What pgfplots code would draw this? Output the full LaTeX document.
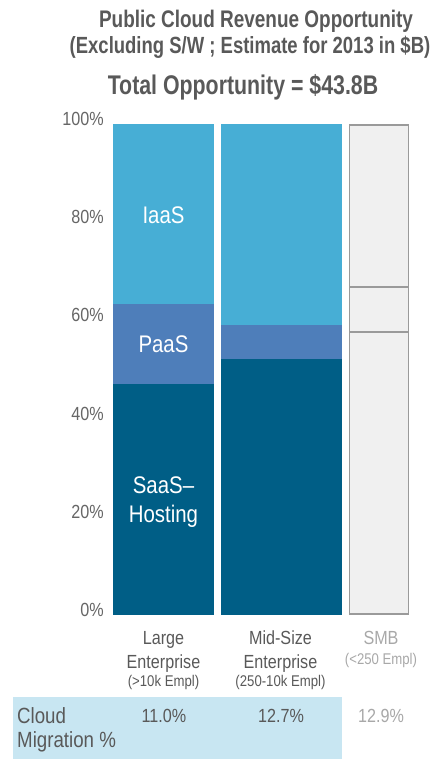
\documentclass[border=0pt]{standalone}
\usepackage{fontspec}
\setmainfont{Liberation Sans}[FakeStretch=0.85]
\newfontfamily\ttlfont{Liberation Sans}[FakeStretch=0.79]
\usepackage{pgfplots}
\pgfplotsset{compat=1.18}
\definecolor{iaas}{HTML}{47AED5}
\definecolor{paas}{HTML}{4E7EBA}
\definecolor{saas}{HTML}{005E86}
\definecolor{smbfill}{HTML}{F0F0F0}
\definecolor{smbline}{HTML}{9A9A9A}
\definecolor{band}{HTML}{C8E6F2}
\definecolor{ttl}{HTML}{595959}
\definecolor{tick}{HTML}{666666}
\definecolor{lgray}{HTML}{A8A8A8}
\newcommand{\fs}[1]{\fontsize{#1bp}{#1bp}\selectfont}
\newcommand{\seg}[5]{\addplot[fill=#5, draw=none] coordinates {(#1,#3) (#2,#3) (#2,#4) (#1,#4)};}
\begin{document}
\begin{tikzpicture}
\path[use as bounding box] (0,0) rectangle (445bp,-759bp);
% titles
\node[anchor=base, text=ttl, inner sep=0pt] at (256bp,-27bp) {\ttlfont\bfseries\fs{24}Public Cloud Revenue Opportunity};
\node[anchor=base, text=ttl, inner sep=0pt] at (250bp,-53bp) {\ttlfont\bfseries\fs{23.4}(Excluding S/W ; Estimate for 2013 in \$B)};
\node[anchor=base, text=ttl, inner sep=0pt] at (243bp,-94bp) {\ttlfont\bfseries\fs{27}Total Opportunity = \$43.8B};
% bottom band
\fill[band] (13bp,-697bp) rectangle (342bp,-759bp);
\begin{axis}[
  at={(113bp,-615bp)}, anchor=south west,
  scale only axis, width=296bp, height=491bp,
  xmin=113, xmax=409, ymin=0, ymax=100,
  clip=false,
  axis line style={draw=none},
  major tick length=0pt,
  xtick=\empty,
  ytick={0,20,40,60,80,100},
  yticklabels={0\%,20\%,40\%,60\%,80\%,100\%},
  yticklabel style={font=\fs{19}, text=tick, inner sep=0pt, anchor=east, xshift=-9bp, yshift=5bp},
]
% Large Enterprise
\seg{113}{214}{0}{47}{saas}
\seg{113}{214}{47}{63.3}{paas}
\seg{113}{214}{63.3}{100}{iaas}
% Mid-Size Enterprise
\seg{221}{342}{0}{52.1}{saas}
\seg{221}{342}{52.1}{59.1}{paas}
\seg{221}{342}{59.1}{100}{iaas}
% SMB (outline only)
\addplot[fill=smbfill, draw=smbline, line width=1.4bp] coordinates {(349.7,0.2) (408.3,0.2) (408.3,99.8) (349.7,99.8)} -- cycle;
\addplot[draw=smbline, line width=1.4bp] coordinates {(349.7,57.6) (408.3,57.6)};
\addplot[draw=smbline, line width=1.4bp] coordinates {(349.7,66.8) (408.3,66.8)};
\end{axis}
% in-bar labels
\node[anchor=base, text=white, inner sep=0pt] at (163.5bp,-223bp) {\fs{24}IaaS};
\node[anchor=base, text=white, inner sep=0pt] at (163.5bp,-352bp) {\fs{24}PaaS};
\node[anchor=base, text=white, inner sep=0pt] at (163.5bp,-493bp) {\fs{24}SaaS–};
\node[anchor=base, text=white, inner sep=0pt] at (163.5bp,-522bp) {\fs{24}Hosting};
% category labels
\node[anchor=base, text=ttl, inner sep=0pt] at (163.5bp,-644bp) {\fs{19}Large};
\node[anchor=base, text=ttl, inner sep=0pt] at (163.5bp,-668bp) {\fs{19}Enterprise};
\node[anchor=base, text=ttl, inner sep=0pt] at (163.5bp,-686bp) {\fs{15.5}(>10k Empl)};
\node[anchor=base, text=ttl, inner sep=0pt] at (280.5bp,-644bp) {\fs{19}Mid-Size};
\node[anchor=base, text=ttl, inner sep=0pt] at (280.5bp,-668bp) {\fs{19}Enterprise};
\node[anchor=base, text=ttl, inner sep=0pt] at (280.5bp,-686bp) {\fs{15.5}(250-10k Empl)};
\node[anchor=base, text=lgray, inner sep=0pt] at (381bp,-644bp) {\fs{19}SMB};
\node[anchor=base, text=lgray, inner sep=0pt] at (381bp,-664bp) {\fs{15.5}(<250 Empl)};
% cloud migration row
\node[anchor=base west, text=ttl, inner sep=0pt] at (17bp,-723bp) {\fs{22}Cloud};
\node[anchor=base west, text=ttl, inner sep=0pt] at (17bp,-747bp) {\fs{22}Migration \%};
\node[anchor=base, text=ttl, inner sep=0pt] at (164bp,-722bp) {\fs{19}11.0\%};
\node[anchor=base, text=ttl, inner sep=0pt] at (281bp,-722bp) {\fs{19}12.7\%};
\node[anchor=base, text=lgray, inner sep=0pt] at (381bp,-722bp) {\fs{19}12.9\%};
\end{tikzpicture}
\end{document}
